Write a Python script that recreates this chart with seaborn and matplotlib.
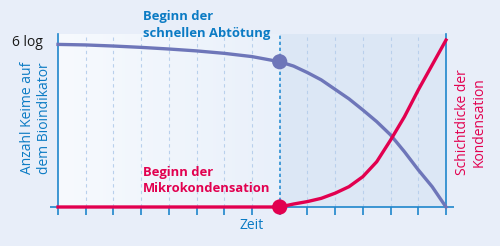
import numpy as np
import pandas as pd
import matplotlib
matplotlib.use("Agg")
import matplotlib.pyplot as plt
import seaborn as sns
from matplotlib.colors import LinearSegmentedColormap

# ---- data ----
time_steps = [0, 1, 2, 3, 4, 5, 6, 7, 8, 8.5, 9, 9.5, 10, 10.5, 11, 11.5, 12, 12.5, 13, 13.5, 14]
germs_log = [6.00, 5.98, 5.94, 5.89, 5.83, 5.76, 5.67, 5.55, 5.36, 5.20, 4.96, 4.69, 4.34, 3.99, 3.58, 3.15, 2.66, 2.04, 1.37, 0.75, 0.0]
condensation = [0, 0, 0, 0, 0, 0, 0, 0, 0, 0.11, 0.20, 0.32, 0.51, 0.75, 1.12, 1.67, 2.47, 3.33, 4.32, 5.24, 6.16]
event_time = [8]
event_germs = [5.36]
event_cond = [0]
x_ticks = list(range(15))
y_top_label = "6 log"

BLUE = "#0b7bc4"
SPINE = "#1f86cc"
RED = "#e2004f"
PURPLE = "#6e76b9"
FIGBG = "#e8eef9"

plt.rcParams['font.family'] = ['Open Sans', 'DejaVu Sans']

W, H = 500, 246
fig = plt.figure(figsize=(W / 100, H / 100), dpi=100, facecolor=FIGBG)
ax = fig.add_axes([58 / W, 1 - 207 / H, 388 / W, 173 / H])
ax.set_facecolor(FIGBG)
YMAX = 173 / 27.1
ax.set_xlim(0, 14)
ax.set_ylim(0, YMAX)

# backgrounds
cmap = LinearSegmentedColormap.from_list("g", ["#f7fafe", "#e9f0fa"])
grad = np.linspace(0, 1, 256).reshape(1, -1)
ax.imshow(grad, extent=[0, 8, 0, YMAX], aspect="auto", cmap=cmap, zorder=0)
ax.axvspan(8, 14, color="#dce7f5", zorder=0, lw=0)

# grid lines
for xv in x_ticks[1:-1]:
    if xv == 8:
        continue
    ax.axvline(xv, color="#b9d0ec", lw=0.8, dashes=(3, 3), zorder=1)
ax.axvline(8, color="#2b8fd3", lw=1.2, dashes=(2, 1.6), zorder=1)

df = pd.DataFrame({"t": time_steps, "germs": germs_log, "cond": condensation})
sns.lineplot(data=df, x="t", y="germs", color=PURPLE, lw=2.4, ax=ax, zorder=3, clip_on=False)
sns.lineplot(data=df, x="t", y="cond", color=RED, lw=2.4, ax=ax, zorder=4, clip_on=False)
sns.scatterplot(x=event_time, y=event_germs, color=PURPLE, s=120, ax=ax, zorder=5, clip_on=False, edgecolor="none")
sns.scatterplot(x=event_time, y=event_cond, color=RED, s=120, ax=ax, zorder=6, clip_on=False, edgecolor="none")

# axes styling
for side in ["left", "bottom", "right"]:
    ax.spines[side].set_color(SPINE)
    ax.spines[side].set_linewidth(1.2)
ax.spines["top"].set_visible(False)
ax.set_xticks(x_ticks)
ax.set_xticklabels([])
ax.set_yticks([0])
ax.set_yticklabels([])
ax.yaxis.set_ticks_position("both")
ax.tick_params(axis="both", direction="out", length=6, width=1.2, color=SPINE)
ax.set_xlabel("")
ax.set_ylabel("")

def ft(x, y, s, **kw):
    fig.text(x / W, 1 - y / H, s, **kw)

ft(43, 42, y_top_label, ha="right", va="center", fontsize=10, color="#1a1a1a")
ft(143, 10, "Beginn der\nschnellen Abtötung", ha="left", va="top", fontsize=9.4,
   fontweight="bold", color=BLUE, linespacing=1.35)
ft(143, 166, "Beginn der\nMikrokondensation", ha="left", va="top", fontsize=9.4,
   fontweight="bold", color=RED, linespacing=1.35)
ft(252, 218, "Zeit", ha="center", va="top", fontsize=10, color=BLUE)
ft(36, 118, "Anzahl Keime auf\ndem Bioindikator", ha="center", va="center", rotation=90,
   fontsize=10, color=BLUE, linespacing=1.1)
ft(471, 122, "Schichtdicke der\nKondensation", ha="center", va="center", rotation=90,
   fontsize=10, color=RED, linespacing=1.1)

fig.savefig("out.png", dpi=100, facecolor=FIGBG)
